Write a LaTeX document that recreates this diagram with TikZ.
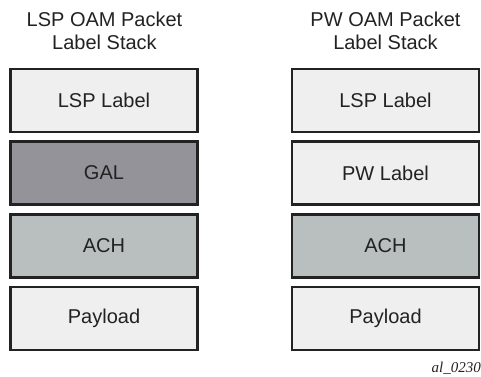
\documentclass[tikz,border=0pt]{standalone}
\usepackage{fontspec}
\setmainfont{Liberation Sans}
\newfontfamily\tagfont{Liberation Serif}
\definecolor{lightfill}{HTML}{EFEFEF}
\definecolor{galfill}{HTML}{949399}
\definecolor{achfill}{HTML}{B8BFBE}
\definecolor{edge}{HTML}{222222}
\definecolor{txt}{HTML}{222222}
\begin{document}
\begin{tikzpicture}[x=1pt,y=-1pt,
  box/.style={draw=edge, line width=2.6pt, minimum width=187pt, minimum height=63pt,
    inner sep=0pt, font=\fontsize{20}{24}\selectfont, text=txt},
  title/.style={align=center, font=\fontsize{20}{23}\selectfont, text=txt}]
\useasboundingbox (0,0) rectangle (481,376);
% left column
\node[title] (t1) at (104.5,31) {LSP OAM Packet\\Label Stack};
\node[box, fill=lightfill] (l1) at (104,100.5) {LSP Label};
\node[box, fill=galfill] (l2) at (104,173) {GAL};
\node[box, fill=achfill] (l3) at (104,246) {ACH};
\node[box, fill=lightfill] (l4) at (104,318.5) {Payload};
% right column
\node[title] (t2) at (385.5,31) {PW OAM Packet\\Label Stack};
\node[box, fill=lightfill] (r1) at (385.5,100.5) {LSP Label};
\node[box, fill=lightfill] (r2) at (385.5,173) {PW Label};
\node[box, fill=achfill] (r3) at (385.5,246) {ACH};
\node[box, fill=lightfill] (r4) at (385.5,318.5) {Payload};
\node[anchor=east, inner sep=0pt, font=\tagfont\itshape\fontsize{15}{18}\selectfont, text=txt] (tag) at (481,368) {al\_0230};
\end{tikzpicture}
\end{document}
